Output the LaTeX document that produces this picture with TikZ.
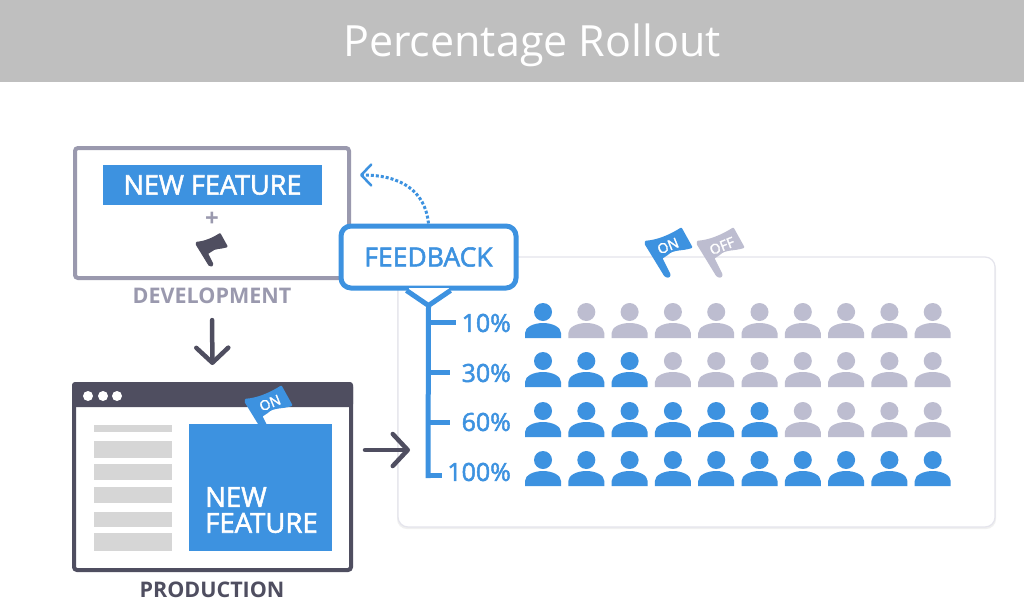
\documentclass[tikz,border=0pt]{standalone}
\usepackage{fontspec}
\setmainfont{Open Sans}
\newfontfamily\medfont[FakeBold=2]{Open Sans}
\usepackage{tikz}
\usetikzlibrary{arrows.meta}
\definecolor{onblue}{HTML}{3D92E0}
\definecolor{offgray}{HTML}{BDBDD0}
\definecolor{devgray}{HTML}{9A99AE}
\definecolor{darkslate}{HTML}{4F4E60}
\definecolor{bargray}{HTML}{D6D6D6}
\definecolor{bandgray}{HTML}{BFBFBF}
\definecolor{panelline}{HTML}{E4E4EC}
\tikzset{
  person/.pic={
    \fill[#1] (0,0) circle (9);
    \fill[#1] (-18,26) -- (-18,21) .. controls (-18,15) and (-9,11) .. (0,11)
      .. controls (9,11) and (18,15) .. (18,21) -- (18,26) -- cycle;
  },
  flag/.pic={
    \filldraw[line join=round, line width=2.5pt, #1] (0,0) .. controls (12,-1) and (24,-6) .. (35,-13) -- (45,5)
      .. controls (36,8) and (27,6) .. (21,12) -- (15,16) -- (23,32)
      .. controls (24,35) and (21,35) .. (19,33) -- (0,2) -- cycle;
  },
  label/.style={font=\bfseries\fontsize{21.5}{21.5}\selectfont, inner sep=0pt},
  pct/.style={font=\medfont\fontsize{25}{25}\selectfont, text=onblue, anchor=east, inner sep=0pt},
  fliptext/.style={font=\medfont\fontsize{14}{14}\selectfont, text=white, rotate=22, inner sep=0pt},
  bigarrow/.style={draw=darkslate, line width=4.5pt, line cap=round,
    -{Straight Barb[length=15pt,width=32pt,line width=4.5pt,round]}},
  sidebar/.style={fill=bargray}
}
\begin{document}
\begin{tikzpicture}[x=1pt,y=-1pt]
\useasboundingbox (0,0) rectangle (1024,613);
\fill[white] (0,0) rectangle (1024,613);
\fill[bandgray] (0,0) rectangle (1024,82);
\node[text=white, inner sep=0pt, font=\fontsize{43}{43}\selectfont] (title) at (532,45) {Percentage Rollout};

% rollout panel
\fill[black!6, rounded corners=10pt] (397,259) rectangle (996,529);
\draw[panelline, fill=white, line width=1.2pt, rounded corners=10pt] (398,257) rectangle (995,527);

% development
\node[draw=devgray, line width=4pt, rounded corners=3pt, minimum width=274pt, minimum height=130pt, inner sep=0pt] (dev) at (212,213) {};
\node[fill=onblue, text=white, minimum width=219pt, minimum height=40pt, inner sep=0pt, font=\medfont\fontsize{27}{27}\selectfont] (devfeature) at (212.5,185) {NEW FEATURE};
\node[text=devgray, inner sep=0pt, font=\bfseries\fontsize{24}{24}\selectfont] (plus) at (212,219) {+};
\pic at (197,243) {flag={darkslate,scale=.65}};
\node[label, text=devgray] (devlabel) at (212,296) {DEVELOPMENT};

% production
\node[draw=darkslate, line width=4pt, rounded corners=3pt, minimum width=277pt, minimum height=186pt, inner sep=0pt] (prod) at (212.5,477) {};
\fill[darkslate, rounded corners=3pt] (72,382) rectangle (353,407);
\fill[darkslate] (72,398) rectangle (353,407);
\foreach \dotx in {88,103,117}
  \fill[white] (\dotx,396) circle (5);
\foreach \ytop/\ybot in {424.5/432,441/458,464/480,487/503,512/527,533/551}
  \fill[sidebar] (94,\ytop) rectangle (172,\ybot);
\node[fill=onblue, minimum width=143pt, minimum height=127pt, inner sep=0pt] (prodfeature) at (260.5,487.5) {};
\node[text=white, anchor=west, inner sep=0pt, font=\medfont\fontsize{27.5}{27.5}\selectfont] (prodnew) at (205,497) {NEW};
\node[text=white, anchor=west, inner sep=0pt, font=\medfont\fontsize{27.5}{27.5}\selectfont] (prodfeat) at (205,523) {FEATURE};
\pic at (246,400) {flag={onblue}};
\node[fliptext] (prodon) at (270,403) {ON};
\node[label, text=darkslate] (prodlabel) at (212,590) {PRODUCTION};

\draw[bigarrow, shorten >=17pt, shorten <=16pt] (devlabel.south) -- (prod.north);
\coordinate (paneledge) at (410,450);
\draw[bigarrow] (365,450) -- (paneledge);

% feedback
\node[draw=onblue, fill=white, line width=5pt, rounded corners=10pt, minimum width=175pt, minimum height=62pt, inner sep=0pt, text=onblue, font=\medfont\fontsize{26.5}{26.5}\selectfont] (feedback) at (428.5,257) {FEEDBACK};
\fill[white] ([xshift=-21pt]feedback.south) -- ([yshift=-15pt]feedback.south) -- ([xshift=21pt]feedback.south) -- cycle;
\draw[white, line width=6pt] ([xshift=-20pt]feedback.south) -- ([xshift=20pt]feedback.south);
\draw[onblue, line width=5pt, line join=round] ([xshift=-22pt]feedback.south) -- ([yshift=-15pt]feedback.south) coordinate (tip) -- ([xshift=22pt]feedback.south);
\coordinate (devedge) at (360,175);
\draw[onblue, line width=3pt, dotted, -{Straight Barb[length=10pt,width=21pt,line width=2.5pt,round]}] (feedback.north) .. controls (425,190) and (400,175) .. (devedge);

% scale
\draw[onblue, line width=5pt] (tip) -- (428,478);
\foreach \ylev/\xend in {322/456,372/450,422/450,475/442}
  \draw[onblue, line width=5pt] (428,\ylev) -- (\xend,\ylev);
\foreach \ylev/\pctval in {323/10,373/30,422/60,472/100}
  \node[pct] (pct\pctval) at (511,\ylev) {\pctval\%};

% flags
\pic at (646,242) {flag={onblue}};
\node[fliptext] (flagon) at (668,246) {ON};
\pic at (698,242) {flag={offgray}};
\node[fliptext] (flagoff) at (722,246) {OFF};

% people
\foreach \yrow/\non in {312/1,361/3,411/6,460/10}
  \foreach \c in {1,...,10} {
    \pgfmathsetmacro{\px}{543+43.3*(\c-1)}
    \ifnum\c>\non\def\pcol{offgray}\else\def\pcol{onblue}\fi
    \pic at (\px,\yrow) {person=\pcol};
  }
\end{tikzpicture}
\end{document}
